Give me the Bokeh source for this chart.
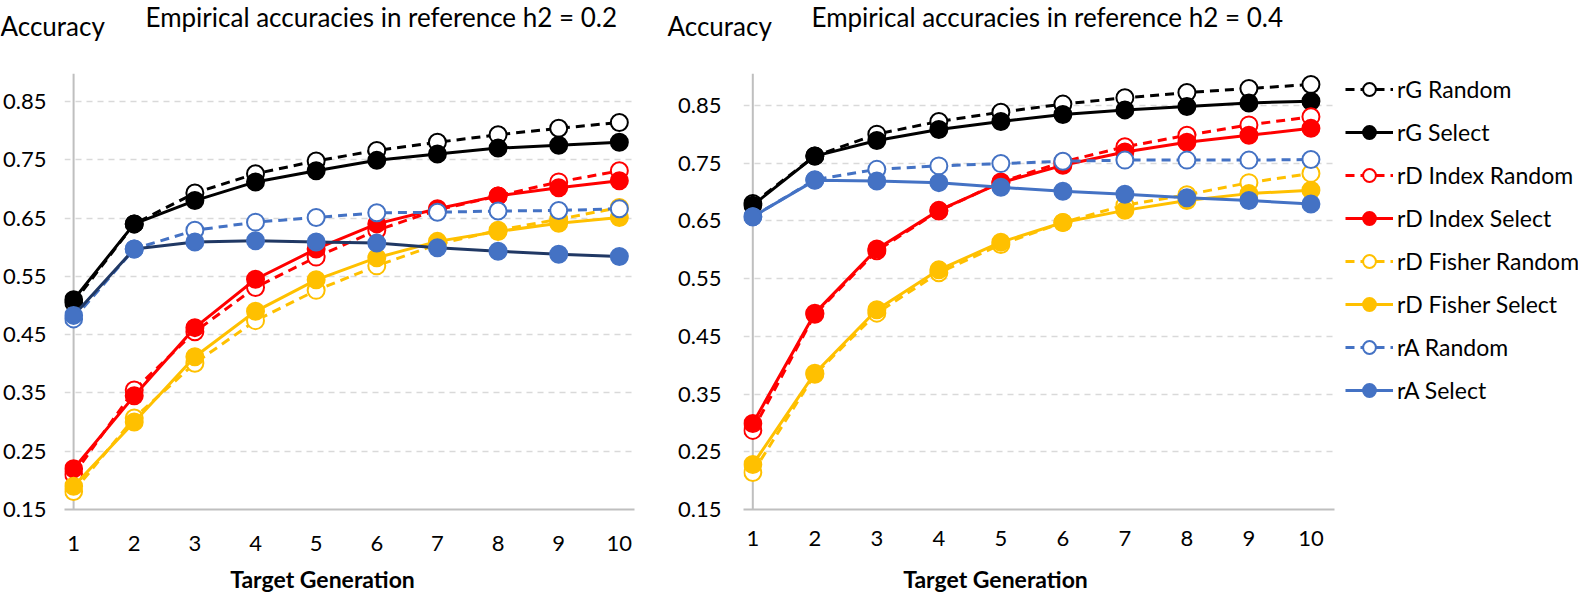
import numpy as np
from bokeh.plotting import figure
from bokeh.models import Range1d, FixedTicker, PrintfTickFormatter, Span, Label, Legend, LegendItem
from bokeh.layouts import row, column
from bokeh.embed import file_html
from bokeh.resources import INLINE

# ---------------- data ----------------
generations = [1, 2, 3, 4, 5, 6, 7, 8, 9, 10]
y_ticks = [0.15, 0.25, 0.35, 0.45, 0.55, 0.65, 0.75, 0.85]

series_names = ["rG Random", "rG Select", "rD Index Random", "rD Index Select",
                "rD Fisher Random", "rD Fisher Select", "rA Random", "rA Select"]

# h2 = 0.2
rG_random_02 = [0.505, 0.640, 0.693, 0.726, 0.748, 0.766, 0.780, 0.793, 0.804, 0.814]
rG_select_02 = [0.510, 0.640, 0.680, 0.712, 0.731, 0.749, 0.760, 0.770, 0.775, 0.780]
rDI_random_02 = [0.210, 0.355, 0.455, 0.531, 0.583, 0.629, 0.664, 0.688, 0.712, 0.731]
rDI_select_02 = [0.220, 0.345, 0.462, 0.545, 0.597, 0.640, 0.666, 0.688, 0.702, 0.714]
rDF_random_02 = [0.181, 0.307, 0.401, 0.474, 0.526, 0.568, 0.605, 0.629, 0.648, 0.668]
rDF_select_02 = [0.190, 0.300, 0.412, 0.490, 0.544, 0.582, 0.610, 0.627, 0.641, 0.651]
rA_random_02 = [0.477, 0.597, 0.629, 0.643, 0.651, 0.659, 0.660, 0.662, 0.663, 0.666]
rA_select_02 = [0.483, 0.597, 0.609, 0.611, 0.609, 0.607, 0.599, 0.593, 0.588, 0.584]

# h2 = 0.4
rG_random_04 = [0.680, 0.762, 0.800, 0.822, 0.838, 0.852, 0.863, 0.872, 0.879, 0.886]
rG_select_04 = [0.677, 0.762, 0.789, 0.808, 0.822, 0.834, 0.842, 0.848, 0.854, 0.857]
rDI_random_04 = [0.287, 0.488, 0.598, 0.667, 0.717, 0.752, 0.778, 0.798, 0.816, 0.830]
rDI_select_04 = [0.299, 0.490, 0.601, 0.668, 0.716, 0.746, 0.769, 0.786, 0.798, 0.810]
rDF_random_04 = [0.214, 0.384, 0.490, 0.560, 0.609, 0.647, 0.677, 0.695, 0.716, 0.732]
rDF_select_04 = [0.228, 0.386, 0.496, 0.565, 0.613, 0.647, 0.668, 0.685, 0.697, 0.703]
rA_random_04 = [0.657, 0.721, 0.739, 0.745, 0.749, 0.753, 0.755, 0.755, 0.755, 0.756]
rA_select_04 = [0.657, 0.720, 0.719, 0.716, 0.708, 0.701, 0.696, 0.690, 0.685, 0.679]

values_02 = [rG_random_02, rG_select_02, rDI_random_02, rDI_select_02,
             rDF_random_02, rDF_select_02, rA_random_02, rA_select_02]
values_04 = [rG_random_04, rG_select_04, rDI_random_04, rDI_select_04,
             rDF_random_04, rDF_select_04, rA_random_04, rA_select_04]

title_02 = "Empirical accuracies in reference h2 = 0.2"
title_04 = "Empirical accuracies in reference h2 = 0.4"
y_label = "Accuracy"
x_label = "Target Generation"

# ---------------- styles ----------------
colors = ["#000000", "#000000", "#FF0000", "#FF0000", "#FFC000", "#FFC000", "#4472C4", "#4472C4"]
dashed = [True, False, True, False, True, False, True, False]
FONT = "Lato"
TOTAL_W = 1578
TOP_H = 42
BOTTOM_H = 36
MID_H = 592 - TOP_H - BOTTOM_H   # 514
W1, W2 = 655, 690
W3 = TOTAL_W - W1 - W2


def strip(height):
    s = figure(width=TOTAL_W, height=height, output_backend="svg", toolbar_location=None,
               x_range=Range1d(0, TOTAL_W), y_range=Range1d(height, 0),
               x_axis_location=None, y_axis_location=None, min_border=0)
    s.outline_line_color = None
    s.xgrid.visible = False
    s.ygrid.visible = False
    return s


def add_text(s, x, y, text, size, align="left", baseline="middle", style="normal"):
    s.add_layout(Label(x=x, y=y, text=text, text_font=FONT, text_font_size=size,
                       text_font_style=style, text_align=align, text_baseline=baseline,
                       text_color="#000000"))


def make_panel(values, width, b_left, b_right, b_top, b_bottom, x_end, y_end,
               rA_line_color, ystand, xstand):
    p = figure(width=width, height=MID_H, output_backend="svg", toolbar_location=None,
               x_range=Range1d(0.85, x_end), y_range=Range1d(0.15, y_end),
               min_border_left=b_left, min_border_right=b_right,
               min_border_top=b_top, min_border_bottom=b_bottom)
    p.outline_line_color = None
    p.xgrid.visible = False
    p.ygrid.grid_line_color = "#D9D9D9"
    p.ygrid.grid_line_dash = "6 5"
    p.ygrid.grid_line_width = 1.3

    p.yaxis.ticker = FixedTicker(ticks=y_ticks)
    p.yaxis.formatter = PrintfTickFormatter(format="%.2f")
    p.yaxis.axis_line_color = None
    p.yaxis.major_tick_line_color = None
    p.yaxis.minor_tick_line_color = None
    p.yaxis.major_label_standoff = ystand
    p.yaxis.major_label_text_font = FONT
    p.yaxis.major_label_text_font_size = "22px"
    p.yaxis.major_label_text_color = "#000000"

    p.xaxis.ticker = FixedTicker(ticks=generations)
    p.xaxis.axis_line_color = "#BFBFBF"
    p.xaxis.axis_line_width = 2
    p.xaxis.major_tick_line_color = None
    p.xaxis.minor_tick_line_color = None
    p.xaxis.major_label_standoff = xstand
    p.xaxis.major_label_text_font = FONT
    p.xaxis.major_label_text_font_size = "22px"
    p.xaxis.major_label_text_color = "#000000"

    p.add_layout(Span(location=1, dimension="height", line_color="#BFBFBF",
                      line_width=2, level="underlay"))

    for name, vals, c, d in zip(series_names, values, colors, dashed):
        lc = rA_line_color if name == "rA Select" else c
        p.line(generations, vals, line_color=lc, line_width=3,
               line_dash="9 6" if d else "solid")
        p.scatter(generations, vals, marker="circle", size=17,
                  line_color=c, line_width=2, fill_color="white" if d else c)
    return p


p1 = make_panel(values_02, W1, b_left=56, b_right=21, b_top=0, b_bottom=47,
                x_end=10.25, y_end=0.898, rA_line_color="#203864", ystand=12, xstand=20)
p2 = make_panel(values_04, W2, b_left=88, b_right=11, b_top=3, b_bottom=42,
                x_end=10.38, y_end=0.905, rA_line_color="#4472C4", ystand=16, xstand=15)

# legend panel: glyph samples only (no visible data)
pl = figure(width=W3, height=MID_H, output_backend="svg", toolbar_location=None,
            x_range=Range1d(0, 1), y_range=Range1d(0, 1),
            x_axis_location=None, y_axis_location=None,
            min_border_left=0, min_border_right=0, min_border_top=31, min_border_bottom=0)
pl.outline_line_color = None
pl.xgrid.visible = False
pl.ygrid.visible = False
nan_x = np.array([np.nan])
nan_y = np.array([np.nan])
items = []
for name, c, d in zip(series_names, colors, dashed):
    lr = pl.line(nan_x, nan_y, line_color=c, line_width=3, line_dash="9 6" if d else "solid")
    sr = pl.scatter(nan_x, nan_y, marker="circle", size=17, line_color=c, line_width=2,
                    fill_color="white" if d else c)
    items.append(LegendItem(label=name, renderers=[lr, sr]))
legend = Legend(items=items, location="top_left", orientation="vertical",
                glyph_width=48, glyph_height=32, label_height=32, label_standoff=4,
                spacing=11, padding=7, margin=0,
                label_text_font=FONT, label_text_font_size="23px", label_text_color="#000000",
                border_line_color=None, background_fill_alpha=0)
pl.add_layout(legend)

# title strip
top = strip(TOP_H)
add_text(top, 145, 0, title_02, "26px", baseline="top")
add_text(top, 811, 0, title_04, "26px", baseline="top")
add_text(top, 0, 25, y_label, "26px")
add_text(top, 667, 25, y_label, "26px")

# axis-title strip
bottom = strip(BOTTOM_H)
add_text(bottom, 322, 22, x_label, "23px", align="center", style="bold")
add_text(bottom, 995, 22, x_label, "23px", align="center", style="bold")

layout = column(top, row(p1, p2, pl, spacing=0), bottom, spacing=0)
open("out.html", "w").write(file_html(layout, INLINE))
